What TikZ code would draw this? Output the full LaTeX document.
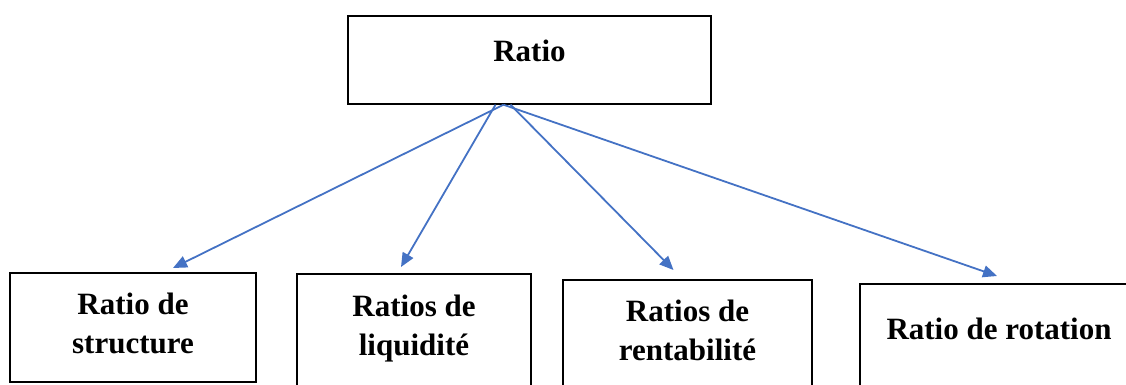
\documentclass[tikz,border=0pt]{standalone}
\usepackage{fontspec}
\setmainfont{Liberation Serif}
\usetikzlibrary{arrows.meta}
\definecolor{linkblue}{HTML}{4472C4}
\tikzset{
    box/.style={draw, line width=2.2pt, align=center, anchor=north, inner xsep=0pt,
        font=\bfseries\fontsize{31}{39}\selectfont},
    link/.style={draw=linkblue, line width=1.8pt, -{Triangle[length=14pt,width=12pt]}, fill=linkblue}
}
\begin{document}
\begin{tikzpicture}[x=1pt,y=-1pt]
            \useasboundingbox (0,0) rectangle (1126,385);
            \node[box, minimum width=363pt, inner ysep=24pt, text depth=18pt] (ratio) at (529.5,15) {Ratio};
            \node[box, minimum width=246pt, inner ysep=20pt, text depth=8pt] (structure) at (133,272) {Ratio de\\structure};
            \node[box, minimum width=234pt, inner ysep=21pt, text depth=13pt] (liquidite) at (414,273) {Ratios de\\liquidité};
            \node[box, minimum width=249pt, inner ysep=20pt, text depth=15pt] (rentabilite) at (687.5,279) {Ratios de\\rentabilité};
            \node[box, minimum width=278pt, inner ysep=34pt, text depth=26pt] (rotation) at (999,283) {Ratio de rotation};
            \foreach \from/\to/\dx/\dy in {-26/structure/40/4, -34/liquidite/-13/6,
                                          -19/rentabilite/-14/9, -26/rotation/-2/7}
                \draw[link] ([xshift=\from pt]ratio.south) -- ([xshift=\dx pt, yshift=\dy pt]\to.north);
        \end{tikzpicture}
\end{document}
